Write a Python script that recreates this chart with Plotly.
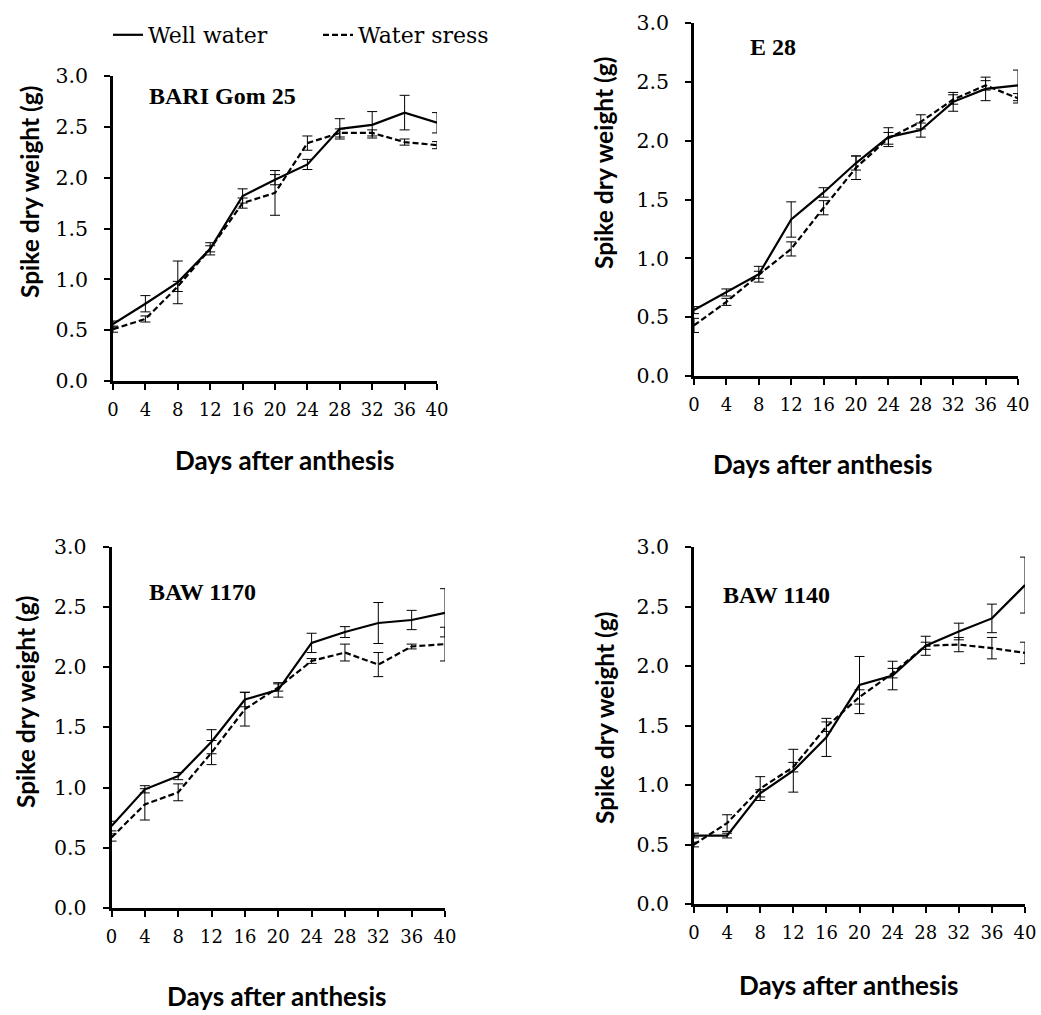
import plotly.graph_objects as go

W, H = 1041, 1015

days = [0, 4, 8, 12, 16, 20, 24, 28, 32, 36, 40]
x_ticks = [0, 4, 8, 12, 16, 20, 24, 28, 32, 36, 40]
y_ticks = [0.0, 0.5, 1.0, 1.5, 2.0, 2.5, 3.0]

panel_names = ["BARI Gom 25", "E 28", "BAW 1170", "BAW 1140"]
legend_names = ["Well water", "Water sress"]
x_title = "Days after anthesis"
y_title = "Spike dry weight (g)"

# BARI Gom 25
bari_well = [0.56, 0.76, 0.97, 1.30, 1.82, 1.98, 2.13, 2.48, 2.52, 2.64, 2.54]
bari_well_err = [0.03, 0.08, 0.21, 0.06, 0.07, 0.05, 0.05, 0.10, 0.13, 0.17, 0.10]
bari_stress = [0.51, 0.61, 0.93, 1.30, 1.75, 1.85, 2.34, 2.44, 2.44, 2.35, 2.32]
bari_stress_err = [0.03, 0.03, 0.05, 0.03, 0.05, 0.22, 0.07, 0.04, 0.03, 0.03, 0.035]

# E 28
e28_well = [0.56, 0.71, 0.865, 1.33, 1.56, 1.81, 2.03, 2.09, 2.33, 2.44, 2.47]
e28_well_err = [0.03, 0.03, 0.067, 0.15, 0.04, 0.06, 0.08, 0.06, 0.08, 0.10, 0.13]
e28_stress = [0.43, 0.63, 0.86, 1.08, 1.43, 1.77, 2.02, 2.16, 2.35, 2.47, 2.36]
e28_stress_err = [0.06, 0.03, 0.03, 0.06, 0.06, 0.10, 0.05, 0.06, 0.04, 0.04, 0.04]

# BAW 1170
b1170_well = [0.68, 0.985, 1.095, 1.38, 1.73, 1.81, 2.20, 2.29, 2.365, 2.39, 2.45]
b1170_well_err = [0.04, 0.03, 0.03, 0.10, 0.06, 0.06, 0.08, 0.045, 0.17, 0.08, 0.20]
b1170_stress = [0.585, 0.86, 0.96, 1.29, 1.65, 1.83, 2.05, 2.12, 2.02, 2.17, 2.19]
b1170_stress_err = [0.03, 0.13, 0.07, 0.10, 0.14, 0.03, 0.02, 0.07, 0.10, 0.02, 0.14]

# BAW 1140
b1140_well = [0.575, 0.575, 0.93, 1.12, 1.40, 1.84, 1.92, 2.17, 2.29, 2.40, 2.68]
b1140_well_err = [0.02, 0.02, 0.03, 0.18, 0.16, 0.24, 0.12, 0.08, 0.07, 0.12, 0.235]
b1140_stress = [0.50, 0.68, 0.97, 1.15, 1.49, 1.74, 1.94, 2.17, 2.18, 2.15, 2.11]
b1140_stress_err = [0.02, 0.07, 0.10, 0.04, 0.04, 0.06, 0.04, 0.03, 0.06, 0.09, 0.09]

panels_well = [bari_well, e28_well, b1170_well, b1140_well]
panels_well_err = [bari_well_err, e28_well_err, b1170_well_err, b1140_well_err]
panels_stress = [bari_stress, e28_stress, b1170_stress, b1140_stress]
panels_stress_err = [bari_stress_err, e28_stress_err, b1170_stress_err, b1140_stress_err]

# layout geometry in pixels: (x_left, x_right, y_bottom(0.0), y_top(3.0))
boxes = [
    (113, 437, 381, 76),
    (694, 1018, 376, 23),
    (111.5, 445, 908, 546.5),
    (694, 1025, 904, 547),
]
xtitle_pos = [(284, 460), (822, 464), (276, 996), (848, 985)]
ytitle_pos = [(29, 192), (603, 163), (25, 702), (604, 718)]
label_pos = [(147, 96), (748, 47), (147, 592), (721, 595)]

def px(x):
    return x / W

def py(y):
    return 1 - y / H

fig = go.Figure()
annotations = []
xtick_font = dict(family="DejaVu Serif", size=18, color="black")
ytick_font = dict(family="DejaVu Serif", size=20.5, color="black")
xtitle_font = dict(family="Lato", size=26, color="black", weight="bold")
ytitle_font = dict(family="Lato", size=24.5, color="black", weight="bold")

for i in range(4):
    xa = "x" if i == 0 else f"x{i+1}"
    ya = "y" if i == 0 else f"y{i+1}"
    fig.add_trace(go.Scatter(
        x=days, y=panels_well[i], mode="lines", name=legend_names[0],
        line=dict(color="black", width=2.2),
        error_y=dict(type="data", array=panels_well_err[i], color="black", thickness=1, width=5),
        xaxis=xa, yaxis=ya, showlegend=(i == 0), cliponaxis=False,
    ))
    fig.add_trace(go.Scatter(
        x=days, y=panels_stress[i], mode="lines", name=legend_names[1],
        line=dict(color="black", width=2.2, dash="6px,3px"),
        error_y=dict(type="data", array=panels_stress_err[i], color="black", thickness=1, width=5),
        xaxis=xa, yaxis=ya, showlegend=(i == 0), cliponaxis=False,
    ))
    xl, xr, yb, yt = boxes[i]
    axis_common = dict(showline=True, linecolor="black", linewidth=2.5, ticks="outside",
                       ticklen=6, tickwidth=2, tickcolor="black", showgrid=False,
                       zeroline=False, automargin=False)
    xkey = "xaxis" if i == 0 else f"xaxis{i+1}"
    ykey = "yaxis" if i == 0 else f"yaxis{i+1}"
    fig.update_layout({
        xkey: dict(domain=[px(xl), px(xr)], range=[0, 40], tickvals=x_ticks,
                   anchor=ya, ticklabelstandoff=5, tickfont=xtick_font, **axis_common),
        ykey: dict(domain=[py(yb), py(yt)], range=[0, 3], tickvals=y_ticks,
                   tickformat=".1f", anchor=xa, ticklabelstandoff=12,
                   tickfont=ytick_font, **axis_common),
    })
    annotations.append(dict(text=x_title, x=px(xtitle_pos[i][0]), y=py(xtitle_pos[i][1]),
                            xref="paper", yref="paper", showarrow=False,
                            font=xtitle_font, xanchor="center", yanchor="middle"))
    annotations.append(dict(text=y_title, x=px(ytitle_pos[i][0]), y=py(ytitle_pos[i][1]),
                            xref="paper", yref="paper", showarrow=False, textangle=-90,
                            font=ytitle_font, xanchor="center", yanchor="middle"))
    annotations.append(dict(text=panel_names[i], x=px(label_pos[i][0]), y=py(label_pos[i][1]),
                            xref="paper", yref="paper", showarrow=False,
                            font=dict(family="Liberation Serif", size=24, color="black", weight="bold"),
                            xanchor="left", yanchor="middle"))

fig.update_layout(
    width=W, height=H,
    margin=dict(l=0, r=0, t=0, b=0, autoexpand=False),
    paper_bgcolor="white", plot_bgcolor="white",
    annotations=annotations,
    legend=dict(orientation="h", x=px(108), y=py(35), xanchor="left", yanchor="middle",
                font=dict(family="DejaVu Serif", size=22, color="black"),
                bgcolor="rgba(0,0,0,0)", entrywidth=165, entrywidthmode="pixels",
                itemwidth=30),
)

fig.write_html("out.html", config={"displayModeBar": False},
               post_script="document.body.style.margin='0px';document.body.style.overflow='hidden';")
